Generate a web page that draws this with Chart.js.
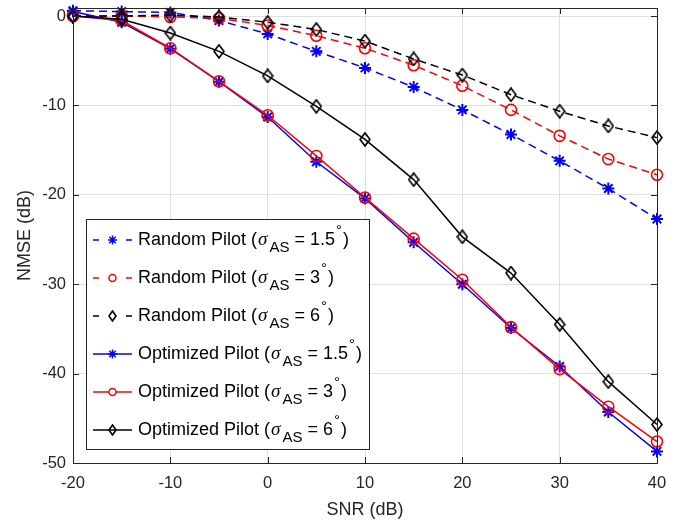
<!DOCTYPE html>
<html>
<head>
<meta charset="utf-8">
<script src="https://cdn.jsdelivr.net/npm/chart.js@4.4.1/dist/chart.umd.min.js"></script>
<style>
  html, body { margin: 0; padding: 0; background: #fff; }
  #wrap { width: 693px; height: 525px; }
</style>
</head>
<body>
<div id="wrap"><canvas id="nmseChart" width="693" height="525"></canvas></div>
<script>
// SNR (dB) sample points
const snr = [-20, -15, -10, -5, 0, 5, 10, 15, 20, 25, 30, 35, 40];

// NMSE (dB)
const randomPilot15 = [0.6, 0.5, 0.4, -0.5, -2.0, -3.95, -5.8, -7.95, -10.5, -13.25, -16.2, -19.3, -22.7];
const randomPilot3 = [0.0, 0.0, -0.1, -0.25, -1.05, -2.2, -3.6, -5.5, -7.8, -10.5, -13.4, -16.0, -17.75];
const randomPilot6 = [0.0, 0.0, 0.1, -0.1, -0.7, -1.5, -2.8, -4.8, -6.6, -8.8, -10.65, -12.3, -13.6];
const optPilot15 = [0.5, -0.7, -3.65, -7.35, -11.3, -16.3, -20.4, -25.3, -30.0, -34.9, -39.2, -44.3, -48.7];
const optPilot3 = [0.0, -0.5, -3.6, -7.3, -11.1, -15.65, -20.3, -24.9, -29.5, -34.8, -39.5, -43.7, -47.6];
const optPilot6 = [0.0, -0.35, -1.9, -3.95, -6.7, -10.1, -13.8, -18.3, -24.7, -28.75, -34.5, -40.9, -45.7];

const xTicks = [-20, -10, 0, 10, 20, 30, 40];
const yTicks = [-50, -40, -30, -20, -10, 0];

const legendLabels = [
  { name: "Random Pilot", sigma: "1.5" },
  { name: "Random Pilot", sigma: "3" },
  { name: "Random Pilot", sigma: "6" },
  { name: "Optimized Pilot", sigma: "1.5" },
  { name: "Optimized Pilot", sigma: "3" },
  { name: "Optimized Pilot", sigma: "6" },
];

const AXIS = "#262626";
const GRID = "#dfdfdf";
const FONT = "Liberation Sans, Arial, Helvetica, sans-serif";

// matlab style diamond (a bit taller than wide)
function makeDiamond(w, h, color, lw) {
  const c = document.createElement("canvas");
  c.width = w;
  c.height = h;
  const g = c.getContext("2d");
  g.strokeStyle = color;
  g.lineWidth = lw;
  g.beginPath();
  g.moveTo(w / 2, 1);
  g.lineTo(w - 1, h / 2);
  g.lineTo(w / 2, h - 1);
  g.lineTo(1, h / 2);
  g.closePath();
  g.stroke();
  return c;
}
const diamondBig = makeDiamond(12, 15, "#000", 1.7);
const diamondSmall = makeDiamond(9, 12, "#000", 1.6);

const toXY = (ys) => ys.map((y, i) => ({ x: snr[i], y }));

const series = [
  { data: randomPilot15, color: "#0000ff", dash: [8, 5], style: "star", r: 6, lr: 4.5 },
  { data: randomPilot3, color: "#ff0000", dash: [8, 5], style: "circle", r: 5.5, lr: 3.5 },
  { data: randomPilot6, color: "#000000", dash: [8, 5], style: diamondBig, small: diamondSmall, r: 6, lr: 4 },
  { data: optPilot15, color: "#0000ff", dash: [], style: "star", r: 6, lr: 4.5 },
  { data: optPilot3, color: "#ff0000", dash: [], style: "circle", r: 5.5, lr: 3.5 },
  { data: optPilot6, color: "#000000", dash: [], style: diamondBig, small: diamondSmall, r: 6, lr: 4 },
];

const datasets = series.map((s, i) => ({
  label: legendLabels[i].name + " " + legendLabels[i].sigma,
  data: toXY(s.data),
  showLine: true,
  borderColor: s.color,
  borderWidth: 1.5,
  borderDash: s.dash,
  backgroundColor: "rgba(0,0,0,0)",
  pointStyle: s.style,
  pointRadius: s.r,
  pointBorderColor: s.color,
  pointBorderWidth: s.style === "star" ? 2 : 1.6,
  pointBackgroundColor: "rgba(0,0,0,0)",
  tension: 0,
  clip: false,
  order: series.length - i,
}));

// box round the axes, ticks pointing inward, and the legend
const matlabFrame = {
  id: "matlabFrame",
  afterDatasetsDraw(chart) {
    const { ctx, chartArea: a, scales } = chart;
    ctx.save();
    ctx.strokeStyle = AXIS;
    ctx.lineWidth = 1;
    ctx.strokeRect(Math.round(a.left) + 0.5, Math.round(a.top) + 0.5, Math.round(a.right - a.left), Math.round(a.bottom - a.top));
    const tl = 6;
    ctx.beginPath();
    xTicks.forEach((v) => {
      const px = Math.round(scales.x.getPixelForValue(v)) + 0.5;
      ctx.moveTo(px, a.bottom);
      ctx.lineTo(px, a.bottom - tl);
      ctx.moveTo(px, a.top);
      ctx.lineTo(px, a.top + tl);
    });
    yTicks.forEach((v) => {
      const py = Math.round(scales.y.getPixelForValue(v)) + 0.5;
      ctx.moveTo(a.left, py);
      ctx.lineTo(a.left + tl, py);
      ctx.moveTo(a.right, py);
      ctx.lineTo(a.right - tl, py);
    });
    ctx.stroke();

    // legend
    const bx = 86.5, by = 219.5, bw = 283, bh = 230;
    ctx.fillStyle = "#fff";
    ctx.fillRect(bx, by, bw, bh);
    ctx.strokeStyle = AXIS;
    ctx.strokeRect(bx, by, bw, bh);

    series.forEach((s, i) => {
      const y = 240 + i * 38;
      ctx.strokeStyle = s.color;
      ctx.lineWidth = 1.5;
      ctx.beginPath();
      if (s.dash.length) {
        ctx.moveTo(93, y); ctx.lineTo(99, y);
        ctx.moveTo(126, y); ctx.lineTo(132, y);
      } else {
        ctx.moveTo(93, y); ctx.lineTo(132, y);
      }
      ctx.stroke();
      ctx.fillStyle = "#fff";
      Chart.helpers.drawPoint(ctx, {
        pointStyle: s.small || s.style,
        radius: s.lr,
        borderWidth: s.style === "star" ? 2 : 1.6,
        rotation: 0,
      }, 112.5, y);

      // label text: name (sigma_AS = n°)
      const lab = legendLabels[i];
      let x = 138;
      ctx.fillStyle = "#000";
      ctx.textBaseline = "middle";
      ctx.textAlign = "left";
      ctx.font = "18px " + FONT;
      const head = lab.name + " (";
      ctx.fillText(head, x, y);
      x += ctx.measureText(head).width + 1;
      ctx.font = "italic 19px 'Liberation Serif', serif";
      ctx.fillText("\u03c3", x, y);
      x += ctx.measureText("\u03c3").width + 2;
      ctx.font = "15px " + FONT;
      ctx.fillText("AS", x, y + 8);
      x += ctx.measureText("AS").width;
      ctx.font = "18px " + FONT;
      const mid = " = " + lab.sigma;
      ctx.fillText(mid, x, y);
      x += ctx.measureText(mid).width + 1;
      ctx.font = "15px " + FONT;
      ctx.fillText("\u00b0", x, y - 9);
      x += ctx.measureText("\u00b0").width + 1;
      ctx.font = "18px " + FONT;
      ctx.fillText(")", x, y);
    });
    ctx.restore();
  },
};

new Chart(document.getElementById("nmseChart"), {
  type: "scatter",
  data: { datasets },
  plugins: [matlabFrame],
  options: {
    responsive: false,
    animation: false,
    devicePixelRatio: 1,
    layout: { padding: { top: 4, right: 36, left: 0, bottom: 0 } },
    plugins: { legend: { display: false }, tooltip: { enabled: false } },
    scales: {
      x: {
        type: "linear",
        min: -20,
        max: 40,
        afterBuildTicks: (s) => { s.ticks = xTicks.map((v) => ({ value: v })); },
        afterFit: (s) => { s.height = 62; s.paddingLeft = 0; s.paddingRight = 0; },
        ticks: { color: AXIS, font: { family: FONT, size: 16.5 }, padding: 11, maxRotation: 0 },
        grid: { color: GRID, drawTicks: false },
        border: { display: false },
        title: { display: true, text: "SNR (dB)", color: AXIS, font: { family: FONT, size: 18 }, padding: { top: 0, bottom: 4 } },
      },
      y: {
        type: "linear",
        min: -50,
        max: 0.9,
        afterBuildTicks: (s) => { s.ticks = yTicks.map((v) => ({ value: v })); },
        afterFit: (s) => { s.width = 73; s.paddingTop = 0; s.paddingBottom = 0; },
        ticks: { color: AXIS, font: { family: FONT, size: 16.5 }, padding: 7 },
        grid: { color: GRID, drawTicks: false },
        border: { display: false },
        title: { display: true, text: "NMSE (dB)", color: AXIS, font: { family: FONT, size: 18 }, padding: { top: 14, bottom: 0 } },
      },
    },
  },
});
</script>
</body>
</html>
